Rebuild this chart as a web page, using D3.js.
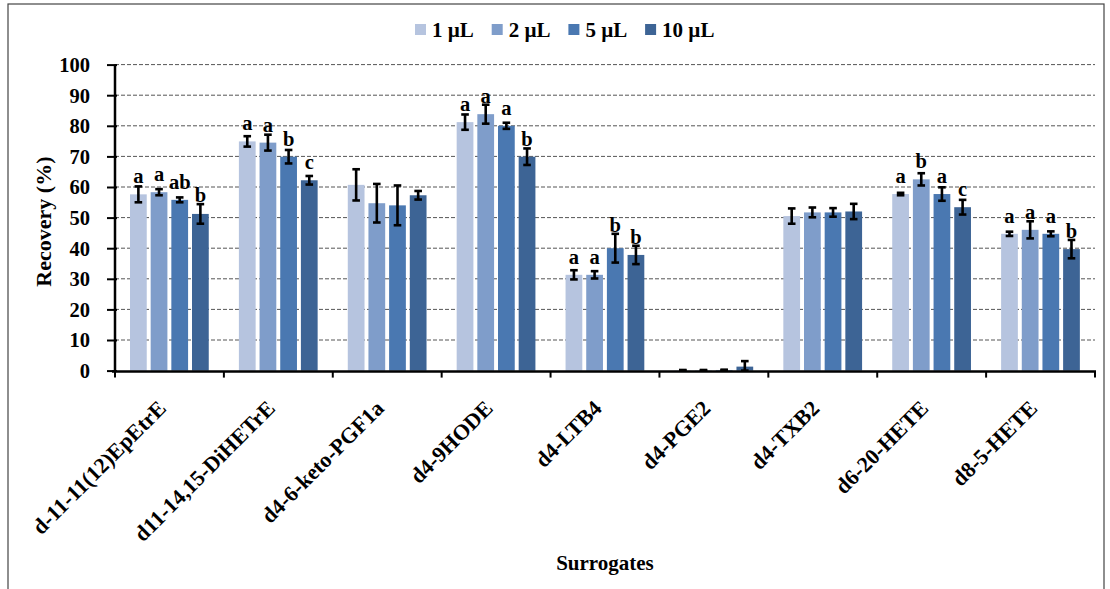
<!DOCTYPE html>
<html>
<head>
<meta charset="utf-8">
<script src="https://cdn.jsdelivr.net/npm/d3@7"></script>
<style>
  body { margin: 0; background: #fff; }
  text { font-family: "Liberation Serif", "Times New Roman", serif; font-weight: bold; fill: #000; }
</style>
</head>
<body>
<svg id="chart" width="1110" height="589"></svg>
<script>
// surrogates on the x axis
var categories = ["d-11-11(12)EpEtrE", "d11-14,15-DiHETrE", "d4-6-keto-PGF1a", "d4-9HODE",
  "d4-LTB4", "d4-PGE2", "d4-TXB2", "d6-20-HETE", "d8-5-HETE"];
var seriesNames = ["1 µL", "2 µL", "5 µL", "10 µL"];
var colors = ["#b6c4df", "#7f9dca", "#4a78b1", "#3d6495"];

// mean recovery (%) per volume
var mean1 = [57.6, 74.9, 60.7, 81.2, 31.3, 0.1, 50.5, 57.7, 44.7];
var mean2 = [58.3, 74.5, 54.7, 83.8, 31.3, 0.1, 51.7, 62.5, 46.0];
var mean5 = [55.8, 69.9, 54.0, 80.0, 40.0, 0.2, 51.7, 57.7, 44.7];
var mean10 = [51.2, 62.2, 57.3, 69.9, 37.8, 1.3, 52.0, 53.4, 39.7];

// error bar half widths
var err1 = [2.6, 1.7, 5.1, 2.5, 1.5, 0.1, 2.5, 0.4, 0.7];
var err2 = [1.0, 2.6, 6.3, 3.1, 1.2, 0.1, 1.6, 2.0, 2.8];
var err5 = [0.8, 2.2, 6.5, 1.0, 4.7, 0.1, 1.4, 2.2, 0.8];
var err10 = [3.2, 1.4, 1.4, 2.7, 3.0, 1.8, 2.5, 2.4, 3.0];

// significance letters
var let1 = ["a", "a", "", "a", "a", "", "", "a", "a"];
var let2 = ["a", "a", "", "a", "a", "", "", "b", "a"];
var let5 = ["ab", "b", "", "a", "b", "", "", "a", "a"];
var let10 = ["b", "c", "", "b", "b", "", "", "c", "b"];

var yTicks = [0, 10, 20, 30, 40, 50, 60, 70, 80, 90, 100];

var means = [mean1, mean2, mean5, mean10],
  errs = [err1, err2, err5, err10],
  lets = [let1, let2, let5, let10];

var svg = d3.select("#chart");

// outer frame
svg.append("rect")
  .attr("x", 8).attr("y", 4)
  .attr("width", 1096).attr("height", 600)
  .attr("fill", "none")
  .attr("stroke", "#444")
  .attr("stroke-width", 1.2);

var plotL = 115, plotR = 1095, plotT = 64.6, plotB = 370.6;

var x = d3.scaleBand().domain(categories).range([plotL, plotR]);
var xs = d3.scaleBand().domain(d3.range(4)).range([15, 93.75]).paddingInner(0.19);
var y = d3.scaleLinear().domain([0, 100]).range([plotB, plotT]);

// grid
svg.append("g")
  .selectAll("line")
  .data(yTicks.filter(function (d) { return d > 0; }))
  .enter().append("line")
  .attr("x1", plotL).attr("x2", plotR)
  .attr("y1", function (d) { return y(d); })
  .attr("y2", function (d) { return y(d); })
  .attr("stroke", "#555")
  .attr("stroke-width", 1)
  .attr("stroke-dasharray", "4,2");

// bars
var rows = [];
categories.forEach(function (c, i) {
  for (var s = 0; s < 4; s++) {
    rows.push({ cat: c, s: s, v: means[s][i], e: errs[s][i], l: lets[s][i] });
  }
});

var cx = function (d) { return x(d.cat) + xs(d.s) + xs.bandwidth() / 2; };

svg.append("g")
  .selectAll("rect")
  .data(rows)
  .enter().append("rect")
  .attr("x", function (d) { return x(d.cat) + xs(d.s); })
  .attr("y", function (d) { return y(d.v); })
  .attr("width", xs.bandwidth())
  .attr("height", function (d) { return y(0) - y(d.v); })
  .attr("fill", function (d) { return colors[d.s]; });

// error bars
var eb = svg.append("g")
  .attr("stroke", "#000")
  .attr("stroke-width", 2.6);

eb.selectAll(".v")
  .data(rows)
  .enter().append("line")
  .attr("x1", cx).attr("x2", cx)
  .attr("y1", function (d) { return y(d.v + d.e); })
  .attr("y2", function (d) { return y(Math.max(0, d.v - d.e)); });

eb.selectAll(".cap1")
  .data(rows)
  .enter().append("line")
  .attr("x1", function (d) { return cx(d) - 3.8; })
  .attr("x2", function (d) { return cx(d) + 3.8; })
  .attr("y1", function (d) { return y(d.v + d.e); })
  .attr("y2", function (d) { return y(d.v + d.e); });

eb.selectAll(".cap2")
  .data(rows)
  .enter().append("line")
  .attr("x1", function (d) { return cx(d) - 3.8; })
  .attr("x2", function (d) { return cx(d) + 3.8; })
  .attr("y1", function (d) { return y(Math.max(0, d.v - d.e)); })
  .attr("y2", function (d) { return y(Math.max(0, d.v - d.e)); });

// letters
svg.append("g")
  .selectAll("text")
  .data(rows.filter(function (d) { return d.l; }))
  .enter().append("text")
  .attr("x", cx)
  .attr("y", function (d) { return Math.min(y(d.v) - 11, y(d.v + d.e) - 2); })
  .attr("text-anchor", "middle")
  .attr("font-size", 20.5)
  .text(function (d) { return d.l; });

// y axis
var yAxis = svg.append("g")
  .attr("transform", "translate(" + plotL + ",0)")
  .call(d3.axisLeft(y).tickValues(yTicks).tickSize(8).tickPadding(17));
yAxis.select(".domain").attr("stroke-width", 2.5).attr("d", "M0," + plotT + "V" + (plotB + 1));
yAxis.selectAll(".tick line").attr("stroke-width", 2).attr("x2", -8).attr("x1", 2);
yAxis.selectAll(".tick text")
  .attr("font-size", 20.5)
  .attr("font-family", "'Liberation Serif', 'Times New Roman', serif")
  .attr("font-weight", "bold")
  .attr("dy", "0.34em");

// x axis
var xAxis = svg.append("g")
  .attr("transform", "translate(0," + (plotB + 1) + ")");
xAxis.append("line")
  .attr("x1", plotL - 3).attr("x2", plotR + 1)
  .attr("stroke", "#000").attr("stroke-width", 2.5);
xAxis.selectAll(".tk")
  .data(categories.concat(["end"]))
  .enter().append("line")
  .attr("x1", function (d, i) { return plotL + i * x.step(); })
  .attr("x2", function (d, i) { return plotL + i * x.step(); })
  .attr("y1", 0).attr("y2", 6)
  .attr("stroke", "#000").attr("stroke-width", 2);
xAxis.selectAll(".lbl")
  .data(categories)
  .enter().append("text")
  .attr("transform", function (d) {
    return "translate(" + (x(d) + x.bandwidth() / 2 - 2) + ",38) rotate(-45)";
  })
  .attr("text-anchor", "end")
  .attr("font-size", 22)
  .text(function (d) { return d; });

// axis titles
svg.append("text")
  .attr("transform", "translate(51," + ((plotT + plotB) / 2 + 4) + ") rotate(-90)")
  .attr("text-anchor", "middle")
  .attr("font-size", 22)
  .text("Recovery (%)");

svg.append("text")
  .attr("x", (plotL + plotR) / 2)
  .attr("y", 570)
  .attr("text-anchor", "middle")
  .attr("font-size", 21)
  .text("Surrogates");

// legend
var legend = svg.append("g")
  .selectAll("g")
  .data(seriesNames)
  .enter().append("g")
  .attr("transform", function (d, i) { return "translate(" + (415 + i * 76.7) + ",0)"; });
legend.append("rect")
  .attr("x", 0).attr("y", 24)
  .attr("width", 11).attr("height", 11)
  .attr("fill", function (d, i) { return colors[i]; });
legend.append("text")
  .attr("x", 17).attr("y", 36.5)
  .attr("font-size", 21)
  .text(function (d) { return d; });
</script>
</body>
</html>
